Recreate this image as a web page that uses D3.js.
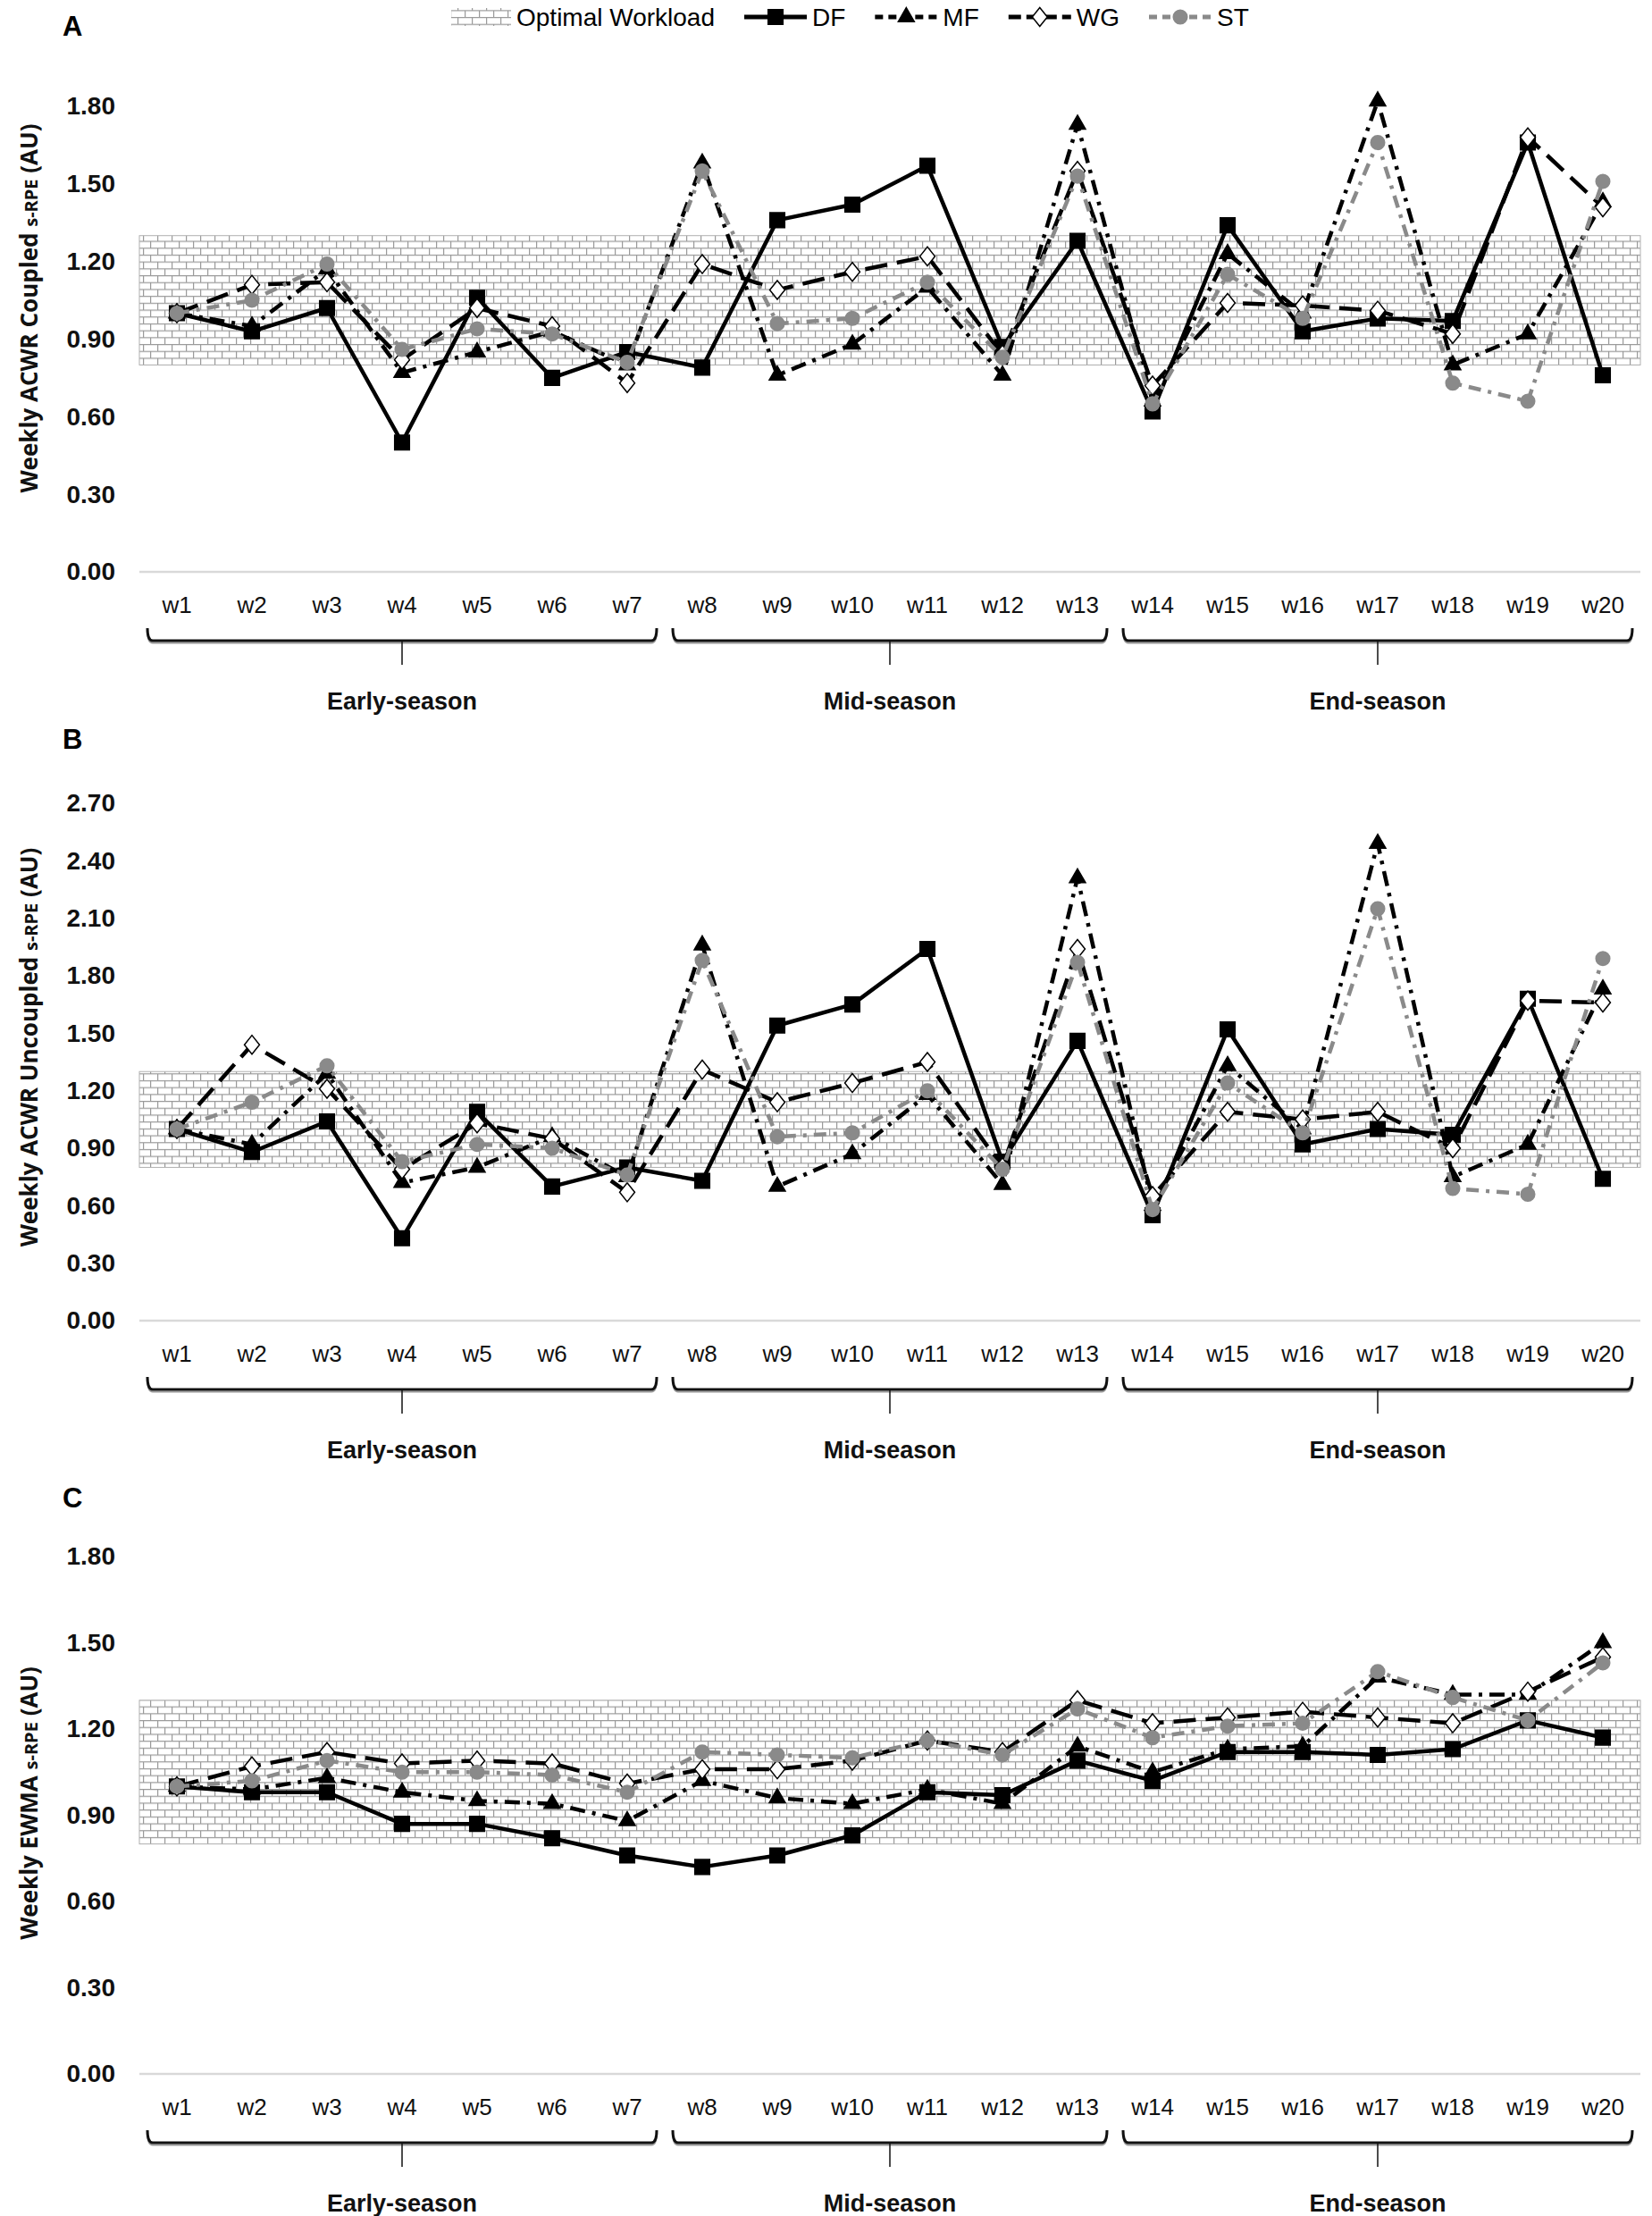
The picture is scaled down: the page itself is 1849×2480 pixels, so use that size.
<!DOCTYPE html>
<html><head><meta charset="utf-8">
<script src="https://cdn.jsdelivr.net/npm/d3@7"></script>
<style>body{margin:0;background:#fff} svg{display:block}</style>
</head><body>
<svg id="chart" width="1849" height="2480"></svg>
<script>
// ---------------- DATA ----------------
const weeks = ["w1","w2","w3","w4","w5","w6","w7","w8","w9","w10","w11","w12","w13","w14","w15","w16","w17","w18","w19","w20"];
const seriesNames = ["DF","MF","WG","ST"];
const bandLabel = "Optimal Workload";
const optimalLow = 0.8, optimalHigh = 1.3;

// Panel A – Weekly ACWR Coupled s-RPE
const coupledDF = [1.00,0.93,1.02,0.50,1.06,0.75,0.85,0.79,1.36,1.42,1.57,0.87,1.28,0.62,1.34,0.93,0.98,0.97,1.66,0.76];
const coupledMF = [1.00,0.95,1.17,0.77,0.85,0.93,0.80,1.58,0.76,0.88,1.10,0.76,1.73,0.66,1.23,1.00,1.82,0.80,0.92,1.43];
const coupledWG = [1.00,1.11,1.12,0.82,1.02,0.95,0.73,1.19,1.09,1.16,1.22,0.84,1.55,0.72,1.04,1.03,1.01,0.92,1.68,1.41];
const coupledST = [1.00,1.05,1.19,0.86,0.94,0.92,0.81,1.55,0.96,0.98,1.12,0.83,1.53,0.65,1.15,0.98,1.66,0.73,0.66,1.51];
const ticksA = [0,0.3,0.6,0.9,1.2,1.5,1.8];

// Panel B – Weekly ACWR Uncoupled s-RPE
const uncoupledDF = [1.00,0.88,1.04,0.43,1.09,0.70,0.80,0.73,1.54,1.65,1.94,0.83,1.46,0.55,1.52,0.92,1.00,0.97,1.68,0.74];
const uncoupledMF = [1.00,0.92,1.29,0.72,0.80,0.96,0.75,1.96,0.70,0.87,1.18,0.71,2.31,0.60,1.33,1.00,2.49,0.75,0.92,1.73];
const uncoupledWG = [1.00,1.44,1.21,0.79,1.03,0.95,0.67,1.31,1.14,1.24,1.35,0.80,1.94,0.65,1.09,1.05,1.09,0.90,1.67,1.66];
const uncoupledST = [1.00,1.14,1.33,0.83,0.92,0.90,0.76,1.88,0.96,0.98,1.20,0.79,1.87,0.58,1.24,0.98,2.15,0.69,0.66,1.89];
const ticksB = [0,0.3,0.6,0.9,1.2,1.5,1.8,2.1,2.4,2.7];

// Panel C – Weekly EWMA s-RPE
const ewmaDF = [1.00,0.98,0.98,0.87,0.87,0.82,0.76,0.72,0.76,0.83,0.98,0.97,1.09,1.02,1.12,1.12,1.11,1.13,1.23,1.17];
const ewmaMF = [1.00,0.99,1.03,0.98,0.95,0.94,0.88,1.02,0.96,0.94,0.99,0.94,1.14,1.05,1.13,1.14,1.38,1.32,1.32,1.50];
const ewmaWG = [1.00,1.07,1.12,1.08,1.09,1.08,1.01,1.06,1.06,1.09,1.16,1.12,1.30,1.22,1.24,1.26,1.24,1.22,1.33,1.45];
const ewmaST = [1.00,1.02,1.09,1.05,1.05,1.04,0.98,1.12,1.11,1.10,1.16,1.11,1.27,1.17,1.21,1.22,1.40,1.31,1.23,1.43];
const ticksC = [0,0.3,0.6,0.9,1.2,1.5,1.8];

const seasonNames = ["Early-season","Mid-season","End-season"];
const seasonFirst = ["w1","w8","w14"];
const seasonLast  = ["w7","w13","w20"];

const panelLetters = ["A","B","C"];
const titleMain = ["Weekly ACWR Coupled ","Weekly ACWR Uncoupled ","Weekly EWMA "];

// ---------------- LAYOUT / STYLE ----------------
const svg = d3.select("#chart");
const plotLeft = 156, plotRight = 1836;
const panels = [
  {letter:0, top:119, zero:640, max:1.8, ticks:ticksA, data:[coupledDF,coupledMF,coupledWG,coupledST], letterY:29, titleC:345},
  {letter:1, top:899, zero:1478, max:2.7, ticks:ticksB, data:[uncoupledDF,uncoupledMF,uncoupledWG,uncoupledST], letterY:827, titleC:1172},
  {letter:2, top:1742, zero:2321, max:1.8, ticks:ticksC, data:[ewmaDF,ewmaMF,ewmaWG,ewmaST], letterY:1676, titleC:2018}
];
const styles = {
  DF:{stroke:"#000", dash:null, marker:"square", fill:"#000", mstroke:"#000", lg:null},
  MF:{stroke:"#000", dash:"17,8,4,8", marker:"triangle", fill:"#000", mstroke:"#000", lg:"9,6"},
  WG:{stroke:"#000", dash:"25,11", marker:"diamond", fill:"#fff", mstroke:"#000", lg:"14,6"},
  ST:{stroke:"#8a8a8a", dash:"14,8,4,8", marker:"circle", fill:"#8a8a8a", mstroke:"#8a8a8a", lg:"9,6"}
};
const fontTick = "'Liberation Sans', Arial, sans-serif";
const fontTitle = "'Open Sans', 'DejaVu Sans', sans-serif";

// brick pattern
const defs = svg.append("defs");
const pat = defs.append("pattern").attr("id","brick").attr("patternUnits","userSpaceOnUse")
  .attr("width",16).attr("height",15.4);
pat.append("rect").attr("width",16).attr("height",15.4).attr("fill","#fff");
pat.append("path").attr("d","M0,0.6H16M0,8.3H16M0.6,0.6V8.3M8.6,8.3V15.4")
  .attr("stroke","#9a9a9a").attr("stroke-width",1.2).attr("fill","none");

const diamondType = {draw(ctx,size){const h=Math.sqrt(size)*0.6, w=h*0.8; ctx.moveTo(0,-h);ctx.lineTo(w,0);ctx.lineTo(0,h);ctx.lineTo(-w,0);ctx.closePath();}};
const symbolFor = {
  square: d3.symbol(d3.symbolSquare, 275),
  triangle: d3.symbol(d3.symbolTriangle, 140),
  diamond: d3.symbol(diamondType, 310),
  circle: d3.symbol(d3.symbolCircle, 190)
};

const x = d3.scaleBand().domain(weeks).range([plotLeft, plotRight]);
const xc = w => x(w) + x.bandwidth()/2;

panels.forEach(p => {
  const g = svg.append("g");
  const y = d3.scaleLinear().domain([0,p.max]).range([p.zero,p.top]);

  // optimal band
  g.append("rect").attr("x",plotLeft).attr("width",plotRight-plotLeft)
    .attr("y",y(optimalHigh)).attr("height",y(optimalLow)-y(optimalHigh))
    .attr("fill","url(#brick)").attr("stroke","#b0b0b0").attr("stroke-width",1);

  // zero line
  g.append("line").attr("x1",plotLeft).attr("x2",plotRight).attr("y1",y(0)).attr("y2",y(0))
    .attr("stroke","#d9d9d9").attr("stroke-width",2.5);

  // y axis
  const ya = g.append("g").attr("transform",`translate(${plotLeft},0)`)
    .call(d3.axisLeft(y).tickValues(p.ticks).tickFormat(d3.format(".2f")).tickSize(0).tickPadding(27));
  ya.select(".domain").remove();
  ya.selectAll("text").attr("font-family",fontTick).attr("font-weight","bold").attr("font-size",28).attr("fill","#111");

  // x axis
  const xa = g.append("g").attr("transform",`translate(0,${y(0)})`)
    .call(d3.axisBottom(x).tickSize(0).tickPadding(28));
  xa.select(".domain").remove();
  xa.selectAll("text").attr("font-family",fontTick).attr("font-size",26).attr("fill","#111");

  // y title
  const t = g.append("text").attr("transform",`translate(42,${p.titleC}) rotate(-90)`)
    .attr("text-anchor","middle").attr("font-family",fontTitle).attr("font-weight","bold").attr("fill","#111");
  t.append("tspan").attr("font-size",26).text(titleMain[p.letter]);
  t.append("tspan").attr("font-size",20).text("s-RPE");
  t.append("tspan").attr("font-size",26).text(" (AU)");

  // panel letter
  g.append("text").attr("x",70).attr("y",p.letterY).attr("dy","0.35em")
    .attr("font-family",fontTick).attr("font-weight","bold").attr("font-size",31).text(panelLetters[p.letter]);

  // season brackets
  const by = y(0) + 77;
  seasonNames.forEach((s,i) => {
    const x0 = x(seasonFirst[i]) + 9, x1 = x(seasonLast[i]) + x.bandwidth() - 9, xm = (x0+x1)/2;
    const d = `M${x0},${by-14} Q${x0},${by} ${x0+6},${by} L${x1-6},${by} Q${x1},${by} ${x1},${by-14}`;
    g.append("path").attr("d",d).attr("transform","translate(0,2.5)").attr("fill","none").attr("stroke","#9a9a9a").attr("stroke-width",2);
    g.append("path").attr("d",d).attr("fill","none").attr("stroke","#111").attr("stroke-width",3);
    g.append("line").attr("x1",xm).attr("x2",xm).attr("y1",by).attr("y2",by+27).attr("stroke","#111").attr("stroke-width",1.5);
    g.append("text").attr("x",xm).attr("y",by+68).attr("dy","0.35em").attr("text-anchor","middle")
      .attr("font-family",fontTick).attr("font-weight","bold").attr("font-size",27).attr("fill","#111").text(s);
  });

  // series
  const line = d3.line().x((d,i)=>xc(weeks[i])).y(d=>y(d));
  seriesNames.forEach((name,si) => {
    const st = styles[name], vals = p.data[si];
    g.append("path").datum(vals).attr("d",line).attr("fill","none")
      .attr("stroke",st.stroke).attr("stroke-width",4.5).attr("stroke-dasharray",st.dash)
      .attr("stroke-linejoin","round");
    g.selectAll(null).data(vals).enter().append("path")
      .attr("transform",(d,i)=>`translate(${xc(weeks[i])},${y(d)})`)
      .attr("d",symbolFor[st.marker]()).attr("fill",st.fill).attr("stroke",st.mstroke).attr("stroke-width",1.5);
  });
});

// legend
const lg = svg.append("g").attr("transform","translate(0,19)");
const items = [];
const sw = lg.append("rect").attr("y",-10).attr("width",67).attr("height",20).attr("fill","url(#brick)");
const bt = lg.append("text").attr("dy","0.35em").attr("font-family",fontTick).attr("font-size",28).text(bandLabel);
items.push({el:sw, w:67, gap:6, kind:"sw"});
items.push({el:bt, w:bt.node().getComputedTextLength(), gap:33, kind:"text"});
seriesNames.forEach((name,i) => {
  const st = styles[name];
  const lgG = lg.append("g");
  lgG.append("line").attr("x1",0).attr("x2",70).attr("stroke",st.stroke).attr("stroke-width",5)
    .attr("stroke-dasharray", st.lg);
  lgG.append("path").attr("transform","translate(35,0)").attr("d",symbolFor[st.marker]())
    .attr("fill",st.fill).attr("stroke",st.mstroke).attr("stroke-width",1.5);
  const tx = lg.append("text").attr("dy","0.35em").attr("font-family",fontTick).attr("font-size",28).text(name);
  items.push({el:lgG, w:70, gap:6, kind:"g"});
  items.push({el:tx, w:tx.node().getComputedTextLength(), gap:i<3?33:0, kind:"text"});
});
let cx = 505;
items.forEach(it => {
  if (it.kind==="g") it.el.attr("transform",`translate(${cx},0)`);
  else it.el.attr("x",cx);
  cx += it.w + it.gap;
});
</script>
</body></html>
